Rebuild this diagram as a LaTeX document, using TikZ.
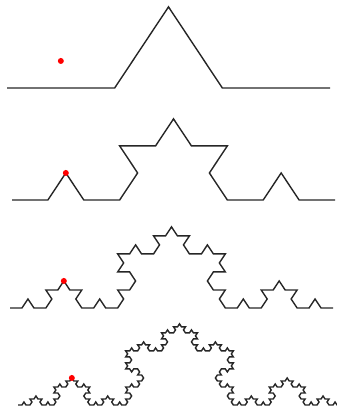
\documentclass[tikz,border=0pt]{standalone}
\usetikzlibrary{calc}

\tikzset{
    declare function={kt(\d)=60*(\d==1)-60*(\d==2);}
}

\begin{document}
\begin{tikzpicture}[x=1pt, y=1pt,
    curve/.style={line width=1.4pt, black!85},
    marker/.style={circle, fill=red, inner sep=0pt, minimum size=6pt}
]
    \useasboundingbox (0,0) rectangle (337,410);

    % Koch curves, order 1 to 4 (start point, base length 323)
    \foreach \n/\x/\y in {1/7/322, 2/12/210, 3/10/102, 4/18/5} {
        \pgfmathsetmacro{\s}{323/3^\n}
        \pgfmathtruncatemacro{\m}{4^\n-1}
        \begin{scope}[shift={(\x,\y)}, yscale=0.87]
            \coordinate (start\n) at (0,0);
            \draw[curve] (start\n)
                \foreach \i [evaluate=\i as \a using
                    {kt(mod(\i,4))+kt(mod(floor(\i/4),4))+kt(mod(floor(\i/16),4))+kt(mod(floor(\i/64),4))}]
                    in {0,...,\m} { -- ++(\a:\s) };
            % point on the curve
            \node[marker] (dot\n) at ($(start\n)+(323/6,{323*sqrt(3)/18})$) {};
        \end{scope}
    }
\end{tikzpicture}
\end{document}
